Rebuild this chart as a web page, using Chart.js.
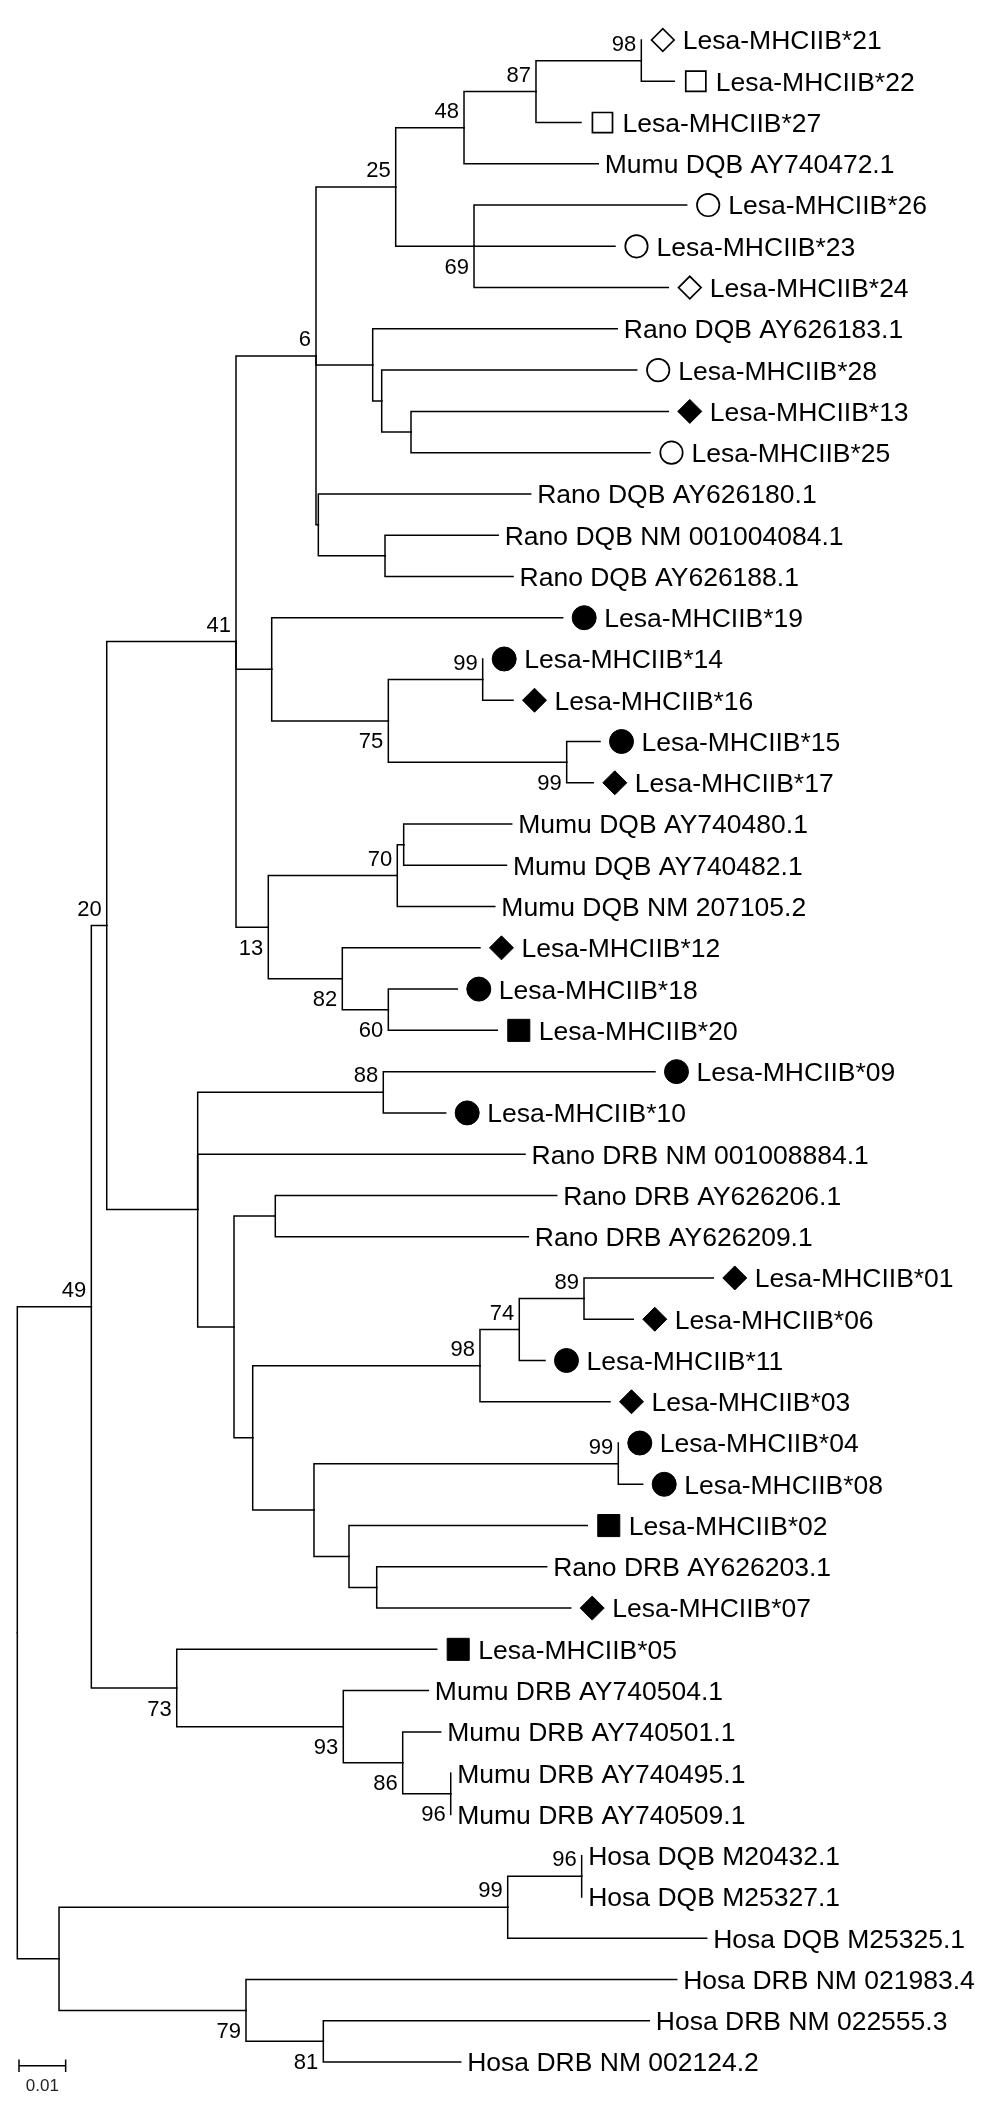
<!DOCTYPE html>
<html>
<head>
<meta charset="utf-8">
<script src="https://cdn.jsdelivr.net/npm/chart.js@4.4.1/dist/chart.umd.min.js"></script>
<style>
  html, body { margin: 0; padding: 0; background: #fff; }
  #wrap { position: relative; width: 1000px; height: 2115px; }
</style>
</head>
<body>
<div id="wrap"><canvas id="tree"></canvas></div>
<script>
/* ── 잎(leaf) 데이터: 위에서 아래 순서 ── */
const LEAF_NAMES = [
  'Lesa-MHCIIB*21', 'Lesa-MHCIIB*22', 'Lesa-MHCIIB*27', 'Mumu DQB AY740472.1',
  'Lesa-MHCIIB*26', 'Lesa-MHCIIB*23', 'Lesa-MHCIIB*24', 'Rano DQB AY626183.1',
  'Lesa-MHCIIB*28', 'Lesa-MHCIIB*13', 'Lesa-MHCIIB*25', 'Rano DQB AY626180.1',
  'Rano DQB NM 001004084.1', 'Rano DQB AY626188.1', 'Lesa-MHCIIB*19', 'Lesa-MHCIIB*14',
  'Lesa-MHCIIB*16', 'Lesa-MHCIIB*15', 'Lesa-MHCIIB*17', 'Mumu DQB AY740480.1',
  'Mumu DQB AY740482.1', 'Mumu DQB NM 207105.2', 'Lesa-MHCIIB*12', 'Lesa-MHCIIB*18',
  'Lesa-MHCIIB*20', 'Lesa-MHCIIB*09', 'Lesa-MHCIIB*10', 'Rano DRB NM 001008884.1',
  'Rano DRB AY626206.1', 'Rano DRB AY626209.1', 'Lesa-MHCIIB*01', 'Lesa-MHCIIB*06',
  'Lesa-MHCIIB*11', 'Lesa-MHCIIB*03', 'Lesa-MHCIIB*04', 'Lesa-MHCIIB*08',
  'Lesa-MHCIIB*02', 'Rano DRB AY626203.1', 'Lesa-MHCIIB*07', 'Lesa-MHCIIB*05',
  'Mumu DRB AY740504.1', 'Mumu DRB AY740501.1', 'Mumu DRB AY740495.1', 'Mumu DRB AY740509.1',
  'Hosa DQB M20432.1', 'Hosa DQB M25327.1', 'Hosa DQB M25325.1', 'Hosa DRB NM 021983.4',
  'Hosa DRB NM 022555.3', 'Hosa DRB NM 002124.2'
];

// od/os/oc = 빈 마름모/사각/원, fd/fs/fc = 채운 마름모/사각/원, '' = 없음
const LEAF_MARKS = [
  'od', 'os', 'os', '',   'oc', 'oc', 'od', '',   'oc', 'fd',
  'oc', '',   '',   '',   'fc', 'fc', 'fd', 'fc', 'fd', '',
  '',   '',   'fd', 'fc', 'fs', 'fc', 'fc', '',   '',   '',
  'fd', 'fd', 'fc', 'fd', 'fc', 'fc', 'fs', '',   'fd', 'fs',
  '',   '',   '',   '',   '',   '',   '',   '',   '',   ''
];

// 루트로부터의 거리 (치환/자리)
const LEAF_DEPTH = [
  0.13371, 0.14078, 0.12078, 0.12449, 0.14343, 0.12807, 0.13949, 0.12856, 0.13272, 0.13949,
  0.13557, 0.11001, 0.10304, 0.10622, 0.11686, 0.09972, 0.10622, 0.12486, 0.12342, 0.10594,
  0.10482, 0.10232, 0.09914, 0.09428, 0.10285, 0.13664, 0.09179, 0.10879, 0.11558, 0.10949,
  0.14913, 0.13199, 0.11307, 0.12700, 0.12878, 0.13401, 0.12213, 0.11343, 0.11858, 0.08987,
  0.08807, 0.09072, 0.09287, 0.09287, 0.12093, 0.12093, 0.14772, 0.14129, 0.13542, 0.09501
];

/* ── 내부 노드 ── */
const NODE_IDS = [
  'n98', 'n87', 'n48', 'n69', 'n25', 'nC', 'nB', 'nA', 'nD', 'nE',
  'n6', 'n99a', 'n99b', 'n75', 'n19c', 'nF', 'n70', 'n60', 'n82', 'n13',
  'n41', 'n88', 'nI', 'n89', 'n74', 'n98b', 'n99c', 'nM', 'nL', 'nK',
  'nJ', 'nH', 'nG', 'n20', 'n96b', 'n86', 'n93', 'n73', 'n49', 'n96c',
  'n99d', 'n81', 'n79', 'nN', 'root'
];
const NODE_CHILDREN = [
  [0, 1], ['n98', 2], ['n87', 3], [4, 5, 6], ['n48', 'n69'], [9, 10], [8, 'nC'], [7, 'nB'], [12, 13], [11, 'nD'],
  ['n25', 'nA', 'nE'], [15, 16], [17, 18], ['n99a', 'n99b'], [14, 'n75'], [19, 20], ['nF', 21], [23, 24], [22, 'n60'], ['n70', 'n82'],
  ['n6', 'n19c', 'n13'], [25, 26], [28, 29], [30, 31], ['n89', 32], ['n74', 33], [34, 35], [37, 38], [36, 'nM'], ['n99c', 'nL'],
  ['n98b', 'nK'], ['nI', 'nJ'], ['n88', 27, 'nH'], ['n41', 'nG'], [42, 43], [41, 'n96b'], [40, 'n86'], [39, 'n93'], ['n20', 'n73'], [44, 45],
  ['n96c', 46], [48, 49], [47, 'n81'], ['n99d', 'n79'], ['n49', 'nN']
];
const NODE_DEPTH = [
  0.13371, 0.11114, 0.09572, 0.09786, 0.08108, 0.08436, 0.07808, 0.07615, 0.07879, 0.06450,
  0.06400, 0.09972, 0.11772, 0.07950, 0.05451, 0.08279, 0.08142, 0.07950, 0.06964, 0.05378,
  0.04686, 0.07842, 0.05528, 0.12143, 0.10756, 0.09914, 0.12878, 0.07701, 0.07107, 0.06357,
  0.05044, 0.04643, 0.03865, 0.01916, 0.09287, 0.08258, 0.06985, 0.03416, 0.01586, 0.12093,
  0.10508, 0.06557, 0.04900, 0.00894, 0
];
// 부트스트랩 값, a = 가지 위, b = 가지 아래
const NODE_SUPPORT = [
  '98', '87', '48', '69', '25', '', '', '', '', '',
  '6', '99', '99', '75', '', '', '70', '60', '82', '13',
  '41', '88', '', '89', '74', '98', '99', '', '', '',
  '', '', '', '20', '96', '86', '93', '73', '49', '96',
  '99', '81', '79', '', ''
];
const SUPPORT_SIDE = [
  'a', 'a', 'a', 'b', 'a', '', '', '', '', '',
  'a', 'a', 'b', 'b', '', '', 'a', 'b', 'b', 'b',
  'a', 'a', '', 'a', 'a', 'a', 'a', '', '', '',
  '', '', '', 'a', 'b', 'b', 'b', 'b', 'a', 'a',
  'a', 'b', 'b', '', ''
];

/* ── 스케일 바 ── */
const SCALE_START = 0.00036;
const SCALE_LEN = 0.01;
const SCALE_LABEL = '0.01';
const SCALE_ROW = 49.09;

/* ── 레이아웃 ── */
const X_MIN = -0.00371, X_MAX = 0.21057;
const PAD_TOP = 40, PAD_BOTTOM = 53;
const W = 1000;
const FONT = '"Liberation Sans", Arial, Helvetica, sans-serif';
const unitsPerPx = (X_MAX - X_MIN) / W;

const nodeIdx = {};
NODE_IDS.forEach((id, i) => { nodeIdx[id] = i; });

function rowOf(ref) {
  if (typeof ref === 'number') return ref;
  const ch = NODE_CHILDREN[nodeIdx[ref]];
  return (rowOf(ch[0]) + rowOf(ch[ch.length - 1])) / 2;
}
function depthOf(ref) {
  return typeof ref === 'number' ? LEAF_DEPTH[ref] : NODE_DEPTH[nodeIdx[ref]];
}

const lineStyle = {
  showLine: true, borderColor: '#000', borderWidth: 1.5, pointRadius: 0,
  borderCapStyle: 'square', borderJoinStyle: 'miter', tension: 0, clip: false, fill: false
};

/* 가지: 노드 → 자식 꺾은선 */
const datasets = [];
NODE_IDS.forEach((id, i) => {
  const nx = NODE_DEPTH[i], ny = rowOf(id);
  NODE_CHILDREN[i].forEach(c => {
    const cy = rowOf(c);
    datasets.push(Object.assign({
      data: [{ x: nx, y: ny }, { x: nx, y: cy }, { x: depthOf(c), y: cy }]
    }, lineStyle));
  });
});

/* 잎 마커 */
const MARK_STYLE = {
  od: { pointStyle: 'rectRot', r: 11.3, fill: '#fff', bw: 1.7 },
  os: { pointStyle: 'rect',    r: 14.2, fill: '#fff', bw: 1.7 },
  oc: { pointStyle: 'circle',  r: 11.2, fill: '#fff', bw: 1.7 },
  fd: { pointStyle: 'rectRot', r: 12,   fill: '#000', bw: 1 },
  fs: { pointStyle: 'rect',    r: 15.6, fill: '#000', bw: 1 },
  fc: { pointStyle: 'circle',  r: 12,   fill: '#000', bw: 1 }
};
Object.keys(MARK_STYLE).forEach(k => {
  const s = MARK_STYLE[k];
  const pts = [];
  LEAF_MARKS.forEach((m, i) => { if (m === k) pts.push({ x: LEAF_DEPTH[i] + 21.5 * unitsPerPx, y: i }); });
  datasets.push({
    data: pts, showLine: false, clip: false,
    pointStyle: s.pointStyle, pointRadius: s.r,
    pointBackgroundColor: s.fill, pointBorderColor: '#000', pointBorderWidth: s.bw
  });
});

/* 스케일 바 */
const tick = 6.3 / ((2115 - PAD_TOP - PAD_BOTTOM) / (LEAF_NAMES.length - 1));
[[SCALE_START, SCALE_ROW - tick, SCALE_START, SCALE_ROW + tick],
 [SCALE_START, SCALE_ROW, SCALE_START + SCALE_LEN, SCALE_ROW],
 [SCALE_START + SCALE_LEN, SCALE_ROW - tick, SCALE_START + SCALE_LEN, SCALE_ROW + tick]
].forEach(s => {
  datasets.push(Object.assign({ data: [{ x: s[0], y: s[1] }, { x: s[2], y: s[3] }] }, lineStyle, { borderCapStyle: 'butt' }));
});

/* 라벨 플러그인 */
const treeLabels = {
  id: 'treeLabels',
  afterDatasetsDraw(chart) {
    const { ctx, scales: { x, y } } = chart;
    ctx.save();
    ctx.fillStyle = '#000';
    ctx.textBaseline = 'alphabetic';

    ctx.font = '26.5px ' + FONT;
    ctx.textAlign = 'left';
    LEAF_NAMES.forEach((name, i) => {
      const px = x.getPixelForValue(LEAF_DEPTH[i]) + (LEAF_MARKS[i] ? 41.5 : 6.5);
      ctx.fillText(name, px, y.getPixelForValue(i) + 9.4);
    });

    ctx.font = '22px ' + FONT;
    ctx.textAlign = 'right';
    NODE_IDS.forEach((id, i) => {
      if (!NODE_SUPPORT[i]) return;
      const px = x.getPixelForValue(NODE_DEPTH[i]) - 5;
      const py = y.getPixelForValue(rowOf(id)) + (SUPPORT_SIDE[i] === 'a' ? -10 : 27.5);
      ctx.fillText(NODE_SUPPORT[i], px, py);
    });

    ctx.font = '17px ' + FONT;
    ctx.fillStyle = '#222';
    ctx.textAlign = 'center';
    ctx.fillText(SCALE_LABEL, x.getPixelForValue(SCALE_START + SCALE_LEN / 2), y.getPixelForValue(SCALE_ROW) + 25.7);
    ctx.restore();
  }
};

new Chart(document.getElementById('tree'), {
  type: 'scatter',
  data: { datasets },
  options: {
    responsive: true,
    maintainAspectRatio: false,
    animation: false,
    devicePixelRatio: 1,
    events: [],
    layout: { autoPadding: false, padding: { top: PAD_TOP, bottom: PAD_BOTTOM, left: 0, right: 0 } },
    scales: {
      x: { type: 'linear', min: X_MIN, max: X_MAX, display: false },
      y: { type: 'linear', min: 0, max: LEAF_NAMES.length - 1, reverse: true, display: false }
    },
    plugins: { legend: { display: false }, tooltip: { enabled: false } }
  },
  plugins: [treeLabels]
});
</script>
</body>
</html>
